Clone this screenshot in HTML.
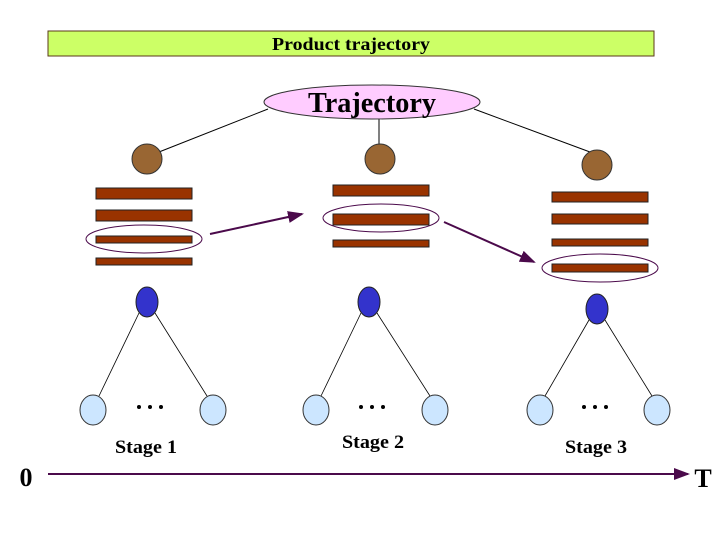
<!DOCTYPE html>
<html><head><style>body{margin:0;background:#fff}</style></head><body>
<svg width="720" height="540" viewBox="0 0 720 540" xmlns="http://www.w3.org/2000/svg" font-family="Liberation Serif, serif" font-weight="bold">
<defs><marker id="a" markerWidth="8" markerHeight="6" refX="7" refY="3" orient="auto"><path d="M0,0L8,3L0,6z" fill="#4b0a4b"/></marker></defs>
<rect x="48" y="31" width="606" height="25" fill="#ccff66" stroke="#5a3a1a"/>
<text x="351" y="50" font-size="18" text-anchor="middle" textLength="158" lengthAdjust="spacingAndGlyphs">Product trajectory</text>
<line x1="268" y1="109" x2="159" y2="152" stroke="#000"/>
<line x1="379" y1="118" x2="379" y2="145" stroke="#000"/>
<line x1="474" y1="109" x2="590" y2="152" stroke="#000"/>
<ellipse cx="372" cy="102" rx="108" ry="17" fill="#ffccff" stroke="#333"/>
<text x="372" y="112" font-size="28" text-anchor="middle" textLength="128" lengthAdjust="spacingAndGlyphs">Trajectory</text>
<g fill="#996633" stroke="#333"><circle cx="147" cy="159" r="15"/><circle cx="380" cy="159" r="15"/><circle cx="597" cy="165" r="15"/></g>
<g fill="#993300" stroke="#222">
<rect x="96" y="188" width="96" height="11"/><rect x="96" y="210" width="96" height="11"/><rect x="96" y="236" width="96" height="7"/><rect x="96" y="258" width="96" height="7"/>
<rect x="333" y="185" width="96" height="11"/><rect x="333" y="214" width="96" height="11"/><rect x="333" y="240" width="96" height="7"/>
<rect x="552" y="192" width="96" height="10"/><rect x="552" y="214" width="96" height="10"/><rect x="552" y="239" width="96" height="7"/><rect x="552" y="264" width="96" height="8"/>
</g>
<g fill="none" stroke="#4b0a4b"><ellipse cx="144" cy="239" rx="58" ry="14"/><ellipse cx="381" cy="218" rx="58" ry="14"/><ellipse cx="600" cy="268" rx="58" ry="14"/></g>
<g stroke="#4b0a4b" stroke-width="2" marker-end="url(#a)"><line x1="210" y1="234" x2="302" y2="214"/><line x1="444" y1="222" x2="534" y2="262"/></g>
<g stroke="#000" stroke-width="0.8">
<line x1="139" y1="313" x2="99" y2="396"/><line x1="155" y1="313" x2="207" y2="396"/>
<line x1="361" y1="313" x2="321" y2="396"/><line x1="377" y1="313" x2="430" y2="396"/>
<line x1="589" y1="320" x2="545" y2="396"/><line x1="605" y1="320" x2="652" y2="396"/>
</g>
<g fill="#3333cc" stroke="#222"><ellipse cx="147" cy="302" rx="11" ry="15"/><ellipse cx="369" cy="302" rx="11" ry="15"/><ellipse cx="597" cy="309" rx="11" ry="15"/></g>
<g fill="#cce6ff" stroke="#333"><ellipse cx="93" cy="410" rx="13" ry="15"/><ellipse cx="213" cy="410" rx="13" ry="15"/><ellipse cx="316" cy="410" rx="13" ry="15"/><ellipse cx="435" cy="410" rx="13" ry="15"/><ellipse cx="540" cy="410" rx="13" ry="15"/><ellipse cx="657" cy="410" rx="13" ry="15"/></g>
<g fill="#000"><circle cx="139" cy="407" r="2"/><circle cx="150" cy="407" r="2"/><circle cx="161" cy="407" r="2"/>
<circle cx="361" cy="407" r="2"/><circle cx="372" cy="407" r="2"/><circle cx="383" cy="407" r="2"/>
<circle cx="584" cy="407" r="2"/><circle cx="595" cy="407" r="2"/><circle cx="606" cy="407" r="2"/></g>
<g font-size="19" text-anchor="middle"><text x="146" y="453" textLength="62" lengthAdjust="spacingAndGlyphs">Stage 1</text><text x="373" y="448" textLength="62" lengthAdjust="spacingAndGlyphs">Stage 2</text><text x="596" y="453" textLength="62" lengthAdjust="spacingAndGlyphs">Stage 3</text></g>
<line x1="48" y1="474" x2="688" y2="474" stroke="#4b0a4b" stroke-width="2" marker-end="url(#a)"/>
<text x="26" y="486" font-size="26" text-anchor="middle">0</text>
<text x="703" y="487" font-size="26" text-anchor="middle">T</text>
</svg>
</body></html>
